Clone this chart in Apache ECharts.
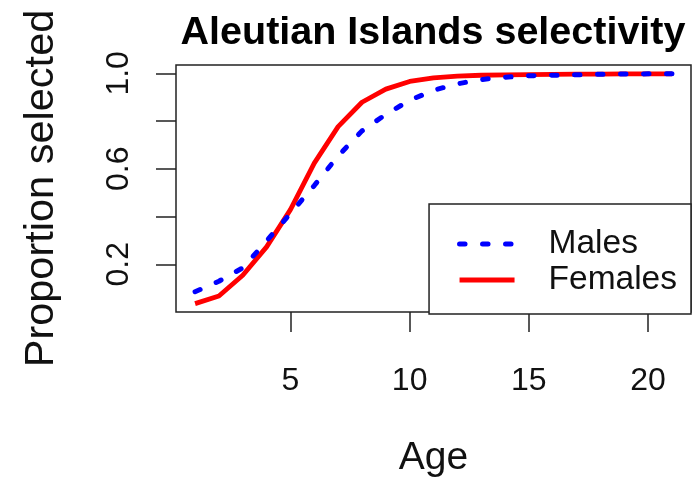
<!DOCTYPE html>
<html>
<head>
<meta charset="utf-8">
<script src="https://cdn.jsdelivr.net/npm/echarts@6/dist/echarts.min.js"></script>
<style>
  html, body { margin: 0; padding: 0; background: #fff; }
  #chart { width: 693px; height: 483px; }
</style>
</head>
<body>
<div id="chart"></div>
<script>
// Selectivity-at-age curves for the Aleutian Islands survey
const ages = [1, 2, 3, 4, 5, 6, 7, 8, 9, 10, 11, 12, 13, 14, 15, 16, 17, 18, 19, 20, 21];
const males = [0.085, 0.129, 0.185, 0.298, 0.413, 0.530, 0.654, 0.759, 0.828, 0.887, 0.929,
               0.956, 0.974, 0.984, 0.990, 0.992, 0.994, 0.996, 0.997, 0.998, 0.998];
const females = [0.035, 0.067, 0.154, 0.273, 0.429, 0.624, 0.777, 0.879, 0.934, 0.966, 0.981,
                 0.988, 0.992, 0.994, 0.995, 0.996, 0.997, 0.997, 0.998, 0.998, 0.998];
const xTicks = [5, 10, 15, 20];
const yTicks = [0.2, 0.4, 0.6, 0.8, 1.0];
const yLabels = [0.2, 0.6, 1.0];

const FONT = '"Liberation Sans", Arial, Helvetica, sans-serif';
const chart = echarts.init(document.getElementById('chart'), null, { renderer: 'canvas' });

const maleLine = { color: '#0000ff', width: 5, type: [5.5, 17.5], cap: 'round' };
const femaleLine = { color: '#ff0000', width: 4.8, type: 'solid' };

chart.setOption({
  animation: false,
  backgroundColor: '#ffffff',
  title: {
    text: 'Aleutian Islands selectivity',
    left: 428,
    textAlign: 'center',
    top: 8,
    textStyle: { fontFamily: FONT, fontWeight: 'bold', fontSize: 39.5, color: '#000' }
  },
  grid: {
    left: 176, right: 2, top: 65, bottom: 169,
    show: true, borderColor: '#222', borderWidth: 1.5, backgroundColor: 'transparent'
  },
  legend: {
    orient: 'vertical',
    right: 2,
    top: 204,
    padding: [22, 14, 16, 28],
    itemGap: 0,
    itemWidth: 55,
    itemHeight: 14,
    borderColor: '#222', borderWidth: 1.5, borderRadius: 0,
    backgroundColor: '#fff',
    textStyle: {
      fontFamily: FONT, fontSize: 33.5, color: '#111', lineHeight: 36,
      padding: [0, 0, 0, 29]
    },
    data: [
      { name: 'Males', itemStyle: { color: '#0000ff', opacity: 0 }, lineStyle: maleLine },
      { name: 'Females', itemStyle: { color: '#ff0000', opacity: 0 }, lineStyle: femaleLine }
    ]
  },
  xAxis: {
    type: 'value',
    min: 0.2, max: 21.8,
    splitLine: { show: false },
    axisLine: { show: false },
    axisTick: { show: true, inside: false, length: 20, customValues: xTicks,
                lineStyle: { color: '#222', width: 1.5 } },
    axisLabel: { customValues: xTicks, margin: 53, fontFamily: FONT, fontSize: 32, color: '#111' },
    name: 'Age',
    nameLocation: 'middle',
    nameGap: 127,
    nameTextStyle: { fontFamily: FONT, fontSize: 39, color: '#111' }
  },
  yAxis: {
    type: 'value',
    min: 0, max: 1.035,
    splitLine: { show: false },
    axisLine: { show: false },
    axisTick: { show: true, inside: false, length: 20, customValues: yTicks,
                lineStyle: { color: '#222', width: 1.5 } },
    axisLabel: {
      customValues: yLabels, rotate: 90, margin: 41,
      fontFamily: FONT, fontSize: 32, color: '#111',
      formatter: v => v.toFixed(1)
    },
    name: 'Proportion selected',
    nameLocation: 'middle',
    nameRotate: 90,
    nameGap: 113,
    nameTextStyle: { fontFamily: FONT, fontSize: 41.5, color: '#111' }
  },
  series: [
    {
      name: 'Males',
      type: 'line',
      data: ages.map((a, i) => [a, males[i]]),
      symbol: 'none',
      lineStyle: maleLine,
      itemStyle: { color: '#0000ff' },
      z: 3
    },
    {
      name: 'Females',
      type: 'line',
      data: ages.map((a, i) => [a, females[i]]),
      symbol: 'none',
      lineStyle: femaleLine,
      itemStyle: { color: '#ff0000' },
      z: 2
    }
  ]
});
</script>
</body>
</html>
